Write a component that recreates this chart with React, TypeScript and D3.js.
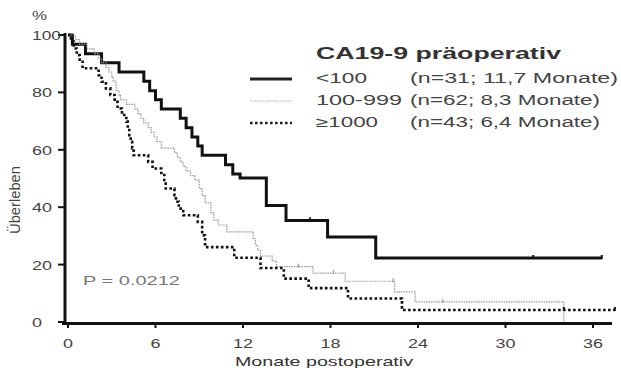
import React from 'react';
import * as d3 from 'd3';

// <100 (n=31)
const solidT = [0, 0.3, 1.2, 2.3, 3.5, 5.2, 5.6, 6.0, 6.4, 7.7, 8.1, 8.5, 8.9, 9.2, 10.8, 11.3, 11.8, 13.6, 14.95, 17.8, 21.1, 36.6];
const solidS = [100, 96.8, 93.5, 90.3, 87.1, 83.9, 80.6, 77.4, 74.2, 71.0, 67.7, 64.5, 61.3, 58.1, 54.8, 51.6, 50.2, 40.6, 35.4, 29.6, 22.3, 22.3];
const solidCens = [16.6, 31.9, 36.6];

// 100-999 (n=62)
const dotT = [0, 0.5, 0.8, 1.3, 1.8, 2.1, 2.3, 2.6, 2.8, 3.0, 3.1, 3.3, 3.5, 3.6, 4.0, 4.6, 4.8, 5.0, 5.2, 5.5, 5.7, 5.9, 6.1, 6.4, 7.3, 7.5, 7.7, 7.9, 8.1, 8.4, 8.7, 9.0, 9.2, 9.4, 9.8, 10.0, 10.3, 10.9, 12.7, 12.85, 13.0, 13.2, 14.0, 14.3, 16.8, 19.0, 22.4, 23.8, 34.0];
const dotS = [100, 98.4, 96.8, 95.2, 93.5, 91.9, 90.3, 88.7, 87.1, 85.5, 83.9, 80.6, 79.0, 77.4, 75.8, 74.2, 72.6, 71.0, 69.4, 67.7, 66.1, 64.5, 62.9, 60.6, 59.0, 57.4, 55.8, 54.2, 52.6, 51.0, 49.4, 46.5, 44.0, 41.5, 38.0, 35.5, 33.8, 31.4, 29.0, 26.8, 25.0, 23.0, 21.3, 19.3, 17.0, 14.2, 10.5, 7.0, 0];
const dotCens = [15.8, 18.2, 22.3, 25.7];

// >=1000 (n=43)
const dashT = [0, 0.2, 0.4, 0.6, 0.8, 1.0, 2.1, 2.3, 2.6, 2.9, 3.2, 3.4, 3.7, 4.0, 4.1, 4.2, 4.3, 4.4, 4.5, 5.5, 5.8, 6.4, 6.6, 6.7, 7.3, 7.4, 7.6, 7.9, 8.9, 9.2, 9.4, 11.4, 13.2, 14.8, 16.5, 19.2, 22.9, 37.5];
const dashS = [100, 97.7, 95.3, 93.0, 90.7, 88.4, 86.0, 83.7, 81.4, 79.1, 76.7, 74.4, 72.1, 69.8, 67.4, 65.1, 62.8, 60.5, 58.1, 55.8, 53.5, 51.2, 48.8, 46.5, 44.2, 41.9, 39.5, 37.2, 34.9, 30.2, 26.1, 22.4, 18.8, 15.1, 11.8, 8.2, 4.2, 4.2];
const dashCens = [34.0, 37.5];

const xTicks = [0, 6, 12, 18, 24, 30, 36];
const yTicks = [0, 20, 40, 60, 80, 100];

const legendGroups = ['<100', '100-999', '≥1000'];
const legendInfo = ['(n=31; 11,7 Monate)', '(n=62; 8,3 Monate)', '(n=43; 6,4 Monate)'];

const FONT = 'Liberation Sans, Arial, sans-serif';

const styles = [
  { stroke: '#111', width: 3, dash: 'none' },
  { stroke: '#999', width: 1.2, dash: '1.5,1' },
  { stroke: '#111', width: 2.6, dash: '2.6,2.4' },
];

export default function App() {
  const x = d3.scaleLinear().domain([0, 36]).range([68, 593]);
  const y = d3.scaleLinear().domain([0, 100]).range([322, 35]);

  const line = d3.line<[number, number]>()
    .x(d => x(d[0]))
    .y(d => y(d[1]))
    .curve(d3.curveStepAfter);

  const series = [
    { t: solidT, s: solidS, c: solidCens },
    { t: dotT, s: dotS, c: dotCens },
    { t: dashT, s: dashS, c: dashCens },
  ];

  const survAt = (t: number[], s: number[], v: number) => {
    let val = s[0];
    for (let i = 0; i < t.length; i++) if (t[i] <= v) val = s[i];
    return val;
  };

  const legendTextW = [51, 86, 62];
  const infoW = [208, 190, 190];
  const rowY = [78, 100, 122];

  return (
    <svg width={621} height={368} style={{ position: 'absolute', left: 0, top: 0, background: '#fff' }} fontFamily={FONT}>
      {/* series */}
      {series.map((se, i) => {
        const pts = se.t.map((t, j) => [t, se.s[j]] as [number, number]);
        return (
          <g key={i}>
            <path d={line(pts) || ''} fill="none" stroke={styles[i].stroke} strokeWidth={styles[i].width}
              strokeDasharray={styles[i].dash} />
            {se.c.map((c, k) => {
              const v = survAt(se.t, se.s, c);
              return <line key={k} x1={x(c)} x2={x(c)} y1={y(v) - 3} y2={y(v) + 1} stroke={styles[i].stroke}
                strokeWidth={i === 1 ? 1.2 : 2} />;
            })}
          </g>
        );
      })}

      {/* axes */}
      <line x1={65} x2={65} y1={33} y2={324} stroke="#111" strokeWidth={3} />
      <line x1={62} x2={612} y1={323.5} y2={323.5} stroke="#111" strokeWidth={3} />
      {yTicks.map(t => (
        <g key={t}>
          <line x1={58} x2={65} y1={y(t)} y2={y(t)} stroke="#111" strokeWidth={2} />
          <text x={32} y={y(t) + 5} fontSize={13} fill="#444" textLength={t === 100 ? 29 : t === 0 ? 10 : 20}
            lengthAdjust="spacingAndGlyphs">{t}</text>
        </g>
      ))}
      {xTicks.map(t => (
        <g key={t}>
          <line x1={x(t)} x2={x(t)} y1={323} y2={328} stroke="#111" strokeWidth={2} />
          <text x={x(t)} y={348} fontSize={13} fill="#444" textAnchor="middle">
            <tspan textLength={t < 10 ? 10 : 20} lengthAdjust="spacingAndGlyphs">{t}</tspan>
          </text>
        </g>
      ))}
      <text x={235} y={366} fontSize={13} fill="#333" textLength={178} lengthAdjust="spacingAndGlyphs">Monate postoperativ</text>
      <text x={32} y={20} fontSize={13} fill="#444" textLength={15} lengthAdjust="spacingAndGlyphs">%</text>
      <text transform="translate(20,234) rotate(-90)" fontSize={14} fill="#444" textLength={68}
        lengthAdjust="spacingAndGlyphs">Überleben</text>
      <text x={83} y={285} fontSize={13} fill="#777" textLength={97} lengthAdjust="spacingAndGlyphs">P = 0.0212</text>

      {/* legend */}
      <text x={316} y={59} fontSize={17} fontWeight="bold" fill="#333" textLength={245} lengthAdjust="spacingAndGlyphs">CA19-9 präoperativ</text>
      {legendGroups.map((g, i) => (
        <g key={g}>
          <line x1={250} x2={292} y1={rowY[i] + 1} y2={rowY[i] + 1} stroke={i === 1 ? '#aaa' : '#222'}
            strokeWidth={styles[i].width} strokeDasharray={styles[i].dash} />
          <text x={316} y={rowY[i] + 5} fontSize={14} fill="#444" textLength={legendTextW[i]} lengthAdjust="spacingAndGlyphs">{g}</text>
          <text x={410} y={rowY[i] + 5} fontSize={14} fill="#444" textLength={infoW[i]} lengthAdjust="spacingAndGlyphs">{legendInfo[i]}</text>
        </g>
      ))}
    </svg>
  );
}
